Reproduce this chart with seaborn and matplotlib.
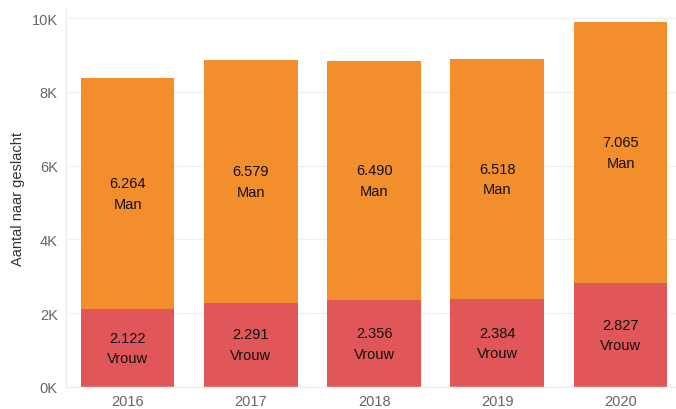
import matplotlib
matplotlib.use("Agg")
import matplotlib.pyplot as plt
import matplotlib.ticker as mticker
import pandas as pd
import seaborn as sns

years = ["2016", "2017", "2018", "2019", "2020"]
vrouw = [2122, 2291, 2356, 2384, 2827]
man = [6264, 6579, 6490, 6518, 7065]

ORANGE = "#f28e2b"
RED = "#e15759"
GRID = "#f0f0f0"
TICK_TXT = "#666666"

sns.set_style("white")
plt.rcParams["font.family"] = ["Liberation Sans", "DejaVu Sans"]

df = pd.DataFrame({"jaar": years, "Vrouw": vrouw, "Man": man})
df["totaal"] = df["Vrouw"] + df["Man"]

fig = plt.figure(figsize=(6.76, 4.10), dpi=100)
ax = fig.add_axes([66 / 676, 1 - 388 / 410, 1 - 66 / 676, 378 / 410])

# stacked: totals first (orange), then the women part on top of it (red)
sns.barplot(data=df, x="jaar", y="totaal", color=ORANGE, width=0.76,
            saturation=1, linewidth=0, ax=ax, zorder=2)
sns.barplot(data=df, x="jaar", y="Vrouw", color=RED, width=0.76,
            saturation=1, linewidth=0, ax=ax, zorder=2)


def nl(v):
    return f"{v:,}".replace(",", ".")


for i, (v, m) in enumerate(zip(vrouw, man)):
    ax.text(i, v / 2, f"{nl(v)}\nVrouw", ha="center", va="center",
            fontsize=10.5, color="#111111", linespacing=1.6, zorder=3)
    ax.text(i, v + m / 2, f"{nl(m)}\nMan", ha="center", va="center",
            fontsize=10.5, color="#111111", linespacing=1.6, zorder=3)

ax.set_ylim(0, 10250)
ax.set_xlim(-0.5, 4.45)
ax.yaxis.set_major_locator(mticker.MultipleLocator(2000))
ax.yaxis.set_major_formatter(mticker.FuncFormatter(lambda v, p: f"{int(v / 1000)}K"))
ax.grid(axis="y", color=GRID, linewidth=1, zorder=0)
ax.set_axisbelow(True)

ax.set_xlabel("")
ax.set_ylabel("Aantal naar geslacht", fontsize=10.5, color="#333333", labelpad=5)

for s in ["top", "right"]:
    ax.spines[s].set_visible(False)
for s in ["left", "bottom"]:
    ax.spines[s].set_color("#eeeeee")
    ax.spines[s].set_linewidth(1)

ax.tick_params(axis="y", length=4, color=GRID, labelsize=10.5, labelcolor=TICK_TXT, pad=2)
ax.tick_params(axis="x", length=0, labelsize=10.5, labelcolor=TICK_TXT, pad=5)
ax.set_xticks(range(len(years)), years)
ax.xaxis.set_minor_locator(mticker.FixedLocator([0.5, 1.5, 2.5, 3.5]))
ax.tick_params(axis="x", which="minor", length=5, color="#eeeeee")

fig.savefig("out.png", dpi=100)
